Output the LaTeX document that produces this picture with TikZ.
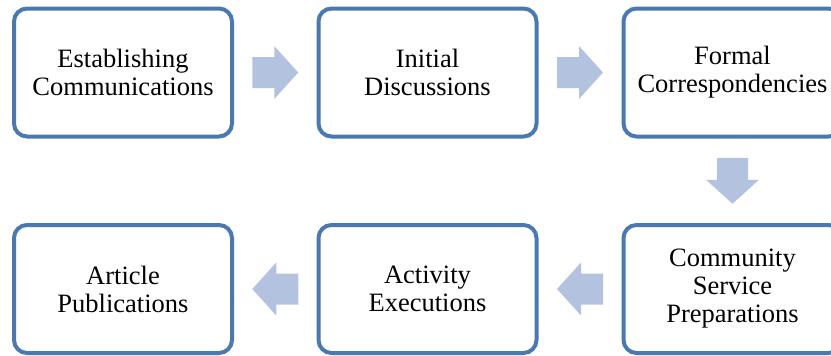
\documentclass[tikz,border=0pt]{standalone}
\usepackage{fontspec}
\setmainfont{Liberation Serif}
\usetikzlibrary{calc}
\definecolor{boxblue}{HTML}{4A78B0}
\definecolor{arrowblue}{HTML}{B3C3DF}
\tikzset{
  x=1pt, y=-1pt,
  stepbox/.style={draw=boxblue, line width=4pt, rounded corners=13pt, fill=white,
    minimum width=218pt, minimum height=128pt, inner sep=0pt, align=center,
    font=\fontsize{26.5}{28}\selectfont},
  blockarrow/.style={fill=arrowblue, draw=none},
}
\newcommand\blockarrowat[2]{%
  \fill[blockarrow, shift={(#1)}, rotate=#2]
    (-23,-15.5) -- (-1,-15.5) -- (-1,-26.5) -- (23,0) -- (-1,26.5) -- (-1,15.5) -- (-23,15.5) -- cycle;}
\begin{document}
\begin{tikzpicture}
\useasboundingbox (0,0) rectangle (831,356);
\clip (0,0) rectangle (831,356);
\node[stepbox] (b1) at (123,72.5) {Establishing\\Communications};
\node[stepbox] (b2) at (427.5,72.5) {Initial\\Discussions};
\node[stepbox] (b3) at (732.5,72.5) {Formal\\Correspondencies};
\node[stepbox] (b4) at (732.5,289) {Community\\Service\\Preparations};
\node[stepbox] (b5) at (427.5,289) {Activity\\Executions};
\node[stepbox] (b6) at (123,289) {Article\\Publications};
\coordinate (a1) at ($(b1.east)!0.5!(b2.west)$);
\coordinate (a2) at ($(b2.east)!0.5!(b3.west)$);
\coordinate (a3) at ($(b3.south)!0.5!(b4.north)$);
\coordinate (a4) at ($(b4.west)!0.5!(b5.east)$);
\coordinate (a5) at ($(b5.west)!0.5!(b6.east)$);
\blockarrowat{a1}{0}
\blockarrowat{a2}{0}
\blockarrowat{a3}{-90}
\blockarrowat{a4}{180}
\blockarrowat{a5}{180}
\end{tikzpicture}
\end{document}
